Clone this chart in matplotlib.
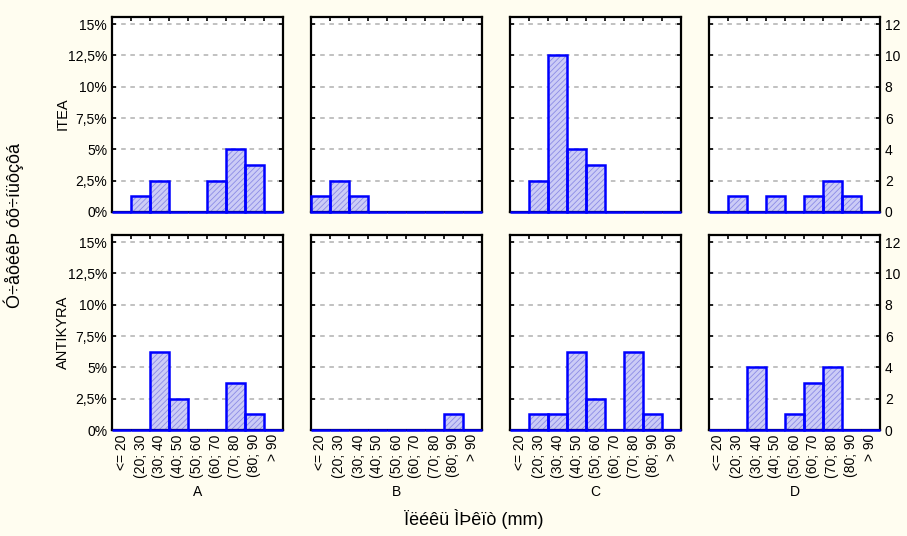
import numpy as np
import matplotlib
matplotlib.use("Agg")
from matplotlib import pyplot as plt

plt.rcParams['font.family'] = ['Liberation Sans', 'DejaVu Sans']
plt.rcParams['hatch.linewidth'] = 0.6

bins = ["<= 20", "(20; 30", "(30; 40", "(40; 50", "(50; 60",
        "(60; 70", "(70; 80", "(80; 90", "> 90"]
groups = ["A", "B", "C", "D"]
rows = ["ITEA", "ANTIKYRA"]

# counts per bin (N = 80, so 1 count = 1.25%)
itea_A = [0, 1, 2, 0, 0, 2, 4, 3, 0]
itea_B = [1, 2, 1, 0, 0, 0, 0, 0, 0]
itea_C = [0, 2, 10, 4, 3, 0, 0, 0, 0]
itea_D = [0, 1, 0, 1, 0, 1, 2, 1, 0]
antikyra_A = [0, 0, 5, 2, 0, 0, 3, 1, 0]
antikyra_B = [0, 0, 0, 0, 0, 0, 0, 1, 0]
antikyra_C = [0, 1, 1, 5, 2, 0, 5, 1, 0]
antikyra_D = [0, 0, 4, 0, 1, 3, 4, 0, 0]

count_ticks = [0, 2, 4, 6, 8, 10, 12]
pct_labels = ["0%", "2,5%", "5%", "7,5%", "10%", "12,5%", "15%"]

data = [[itea_A, itea_B, itea_C, itea_D],
        [antikyra_A, antikyra_B, antikyra_C, antikyra_D]]

W, H = 907, 536
fig = plt.figure(figsize=(W / 100, H / 100), dpi=100)
fig.patch.set_facecolor("#fffdf0")

lefts = [112, 311, 510, 709]
tops = [17, 235]
pw, ph = 171, 195
x = np.arange(len(bins))

for r in range(2):
    for c in range(4):
        ax = fig.add_axes([lefts[c] / W, 1 - (tops[r] + ph) / H, pw / W, ph / H])
        vals = data[r][c]
        ax.bar(x, vals, width=1.0, color="#ccccf6", edgecolor="#8c8ce6",
               hatch="//////", linewidth=0, zorder=2)
        outl = ax.bar(x, vals, width=1.0, fill=False, edgecolor="#0000ff",
                      linewidth=1.8, zorder=5)
        for p in outl:
            p.set_clip_on(False)
        ax.set_xlim(-0.5, 8.5)
        ax.set_ylim(0, 12.45)
        ax.set_yticks(count_ticks)
        ax.grid(axis="y", color="#b0b0b0", linestyle=(0, (3, 3)),
                linewidth=1.1, zorder=1)
        for s in ax.spines.values():
            s.set_linewidth(1.6)
            s.set_color("black")
        ax.set_xticks(x)
        ax.set_xticks(np.arange(0.5, 8, 1), minor=True)
        ax.tick_params(axis="x", which="major", length=0, pad=3)
        ax.tick_params(axis="x", which="minor", top=True, bottom=False,
                       direction="in", length=3, width=1.2)
        ax.tick_params(axis="y", direction="in", left=True, right=True,
                       length=3, width=1.2, labelsize=10)
        if r == 1:
            ax.set_xticklabels(bins, rotation=90, fontsize=10)
            ax.set_xlabel(groups[c], fontsize=10, labelpad=5)
        else:
            ax.set_xticklabels([])
        if c == 0:
            ax.set_yticklabels(pct_labels)
        else:
            ax.set_yticklabels([])
        if c == 3:
            ax.tick_params(axis="y", labelright=True, labelleft=False)
            ax.set_yticklabels([str(t) for t in count_ticks])

fig.text(63 / W, 1 - 114 / H, rows[0], rotation=90, ha="center", va="center", fontsize=10.5)
fig.text(63 / W, 1 - 332 / H, rows[1], rotation=90, ha="center", va="center", fontsize=10.5)
fig.text(14 / W, 1 - 225 / H, "Ó÷åôéêÞ óõ÷íüôçôá", rotation=90,
         ha="center", va="center", fontsize=13)
fig.text(474 / W, 1 - 519 / H, "Ïëéêü ÌÞêïò (mm)", ha="center", va="center",
         fontsize=13)

fig.savefig("out.png", dpi=100, facecolor=fig.get_facecolor())
